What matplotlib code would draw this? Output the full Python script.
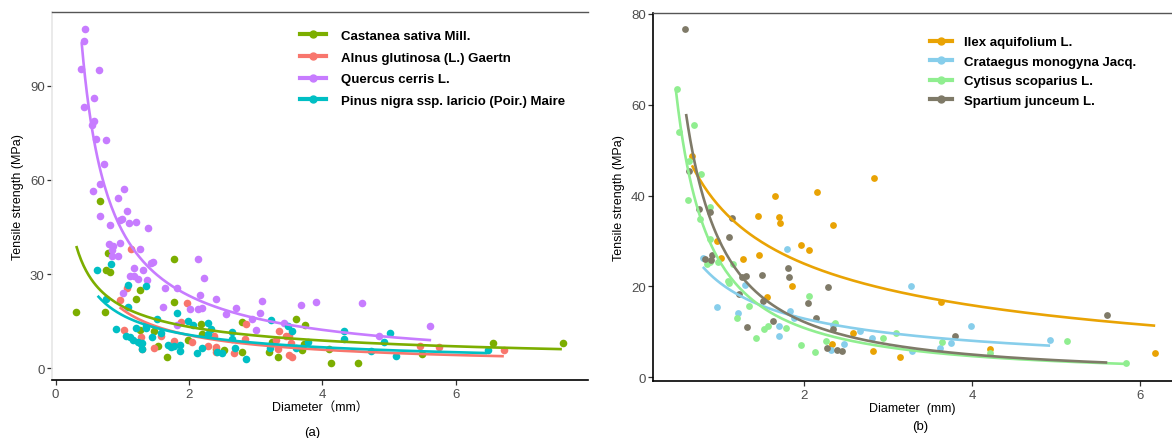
import numpy as np
import matplotlib
matplotlib.use("Agg")
import matplotlib.pyplot as plt
from matplotlib.lines import Line2D

plt.rcParams["font.family"] = ["Liberation Sans", "Noto Sans CJK SC", "DejaVu Sans"]

# Panel (a): tree species.
castanea_x = [0.31, 0.66, 0.78, 0.75, 0.82, 0.74, 1.26, 1.21, 1.77, 1.78, 1.26, 1.48, 1.53, 1.67,
              1.98, 2.18, 2.2, 2.41, 2.53, 2.79, 2.8, 3.2, 3.34, 3.24, 3.6, 3.74, 3.73, 3.7, 4.1,
              4.13, 4.54, 5.49, 6.56, 7.6]
castanea_y = [17.9, 53.3, 36.8, 31.3, 30.7, 17.9, 24.8, 22, 34.7, 21.2, 12.2, 11.7, 6.9, 3.7,
              9, 14, 10.8, 6, 5.8, 14.8, 5.2, 5, 3.4, 8.2, 15.6, 13.8, 7.6, 5.8, 6,
              1.6, 1.6, 4.5, 8, 8]

alnus_x = [1.13, 1.07, 0.96, 1.02, 1.28, 1.3, 1.48, 1.58, 1.77, 1.97, 1.88, 2.05, 2.28, 2.38,
           2.4, 2.41, 2.68, 2.85, 2.84, 3.33, 3.31, 3.45, 3.5, 3.53, 3.5, 3.55, 3.35, 5.47,
           5.75, 6.72]
alnus_y = [38.1, 25.7, 21.8, 12.2, 9.8, 6, 6.4, 10.3, 8.7, 20.9, 14.8, 8.4, 6.9, 10.1,
           6.6, 5.3, 4.7, 14.2, 9.2, 6, 9, 10.3, 10.3, 8, 4.1, 3.7, 11.7, 7.1,
           6.6, 5.8]

quercus_x = [0.44, 0.42, 0.38, 0.65, 0.57, 0.42, 0.57, 0.54, 0.60, 0.76, 0.72, 0.67, 0.56, 1.02,
             0.93, 0.66, 1.07, 1.0, 0.97, 1.10, 1.20, 0.82, 1.39, 0.80, 0.86, 0.97, 0.93, 0.85,
             0.85, 1.27, 1.46, 1.43, 1.17, 1.31, 1.11, 1.18, 1.23, 1.37, 1.64, 1.82, 2.13, 2.23,
             2.17, 2.41, 2.02, 2.14, 2.2, 1.61, 1.01, 2.71, 2.56, 3.09, 3.07, 2.95, 3.0, 1.82,
             3.68, 3.9, 4.59, 5.62, 3.43, 4.85]
quercus_y = [108, 104.2, 95.5, 95, 86, 83.3, 78.9, 77.6, 73.1, 72.6, 65, 58.6, 56.5, 57,
             54.4, 48.6, 50.1, 47.6, 47.3, 46.2, 46.6, 45.7, 44.7, 39.5, 38.9, 39.8, 35.8, 35.8,
             37.7, 38.1, 33.9, 33.6, 32, 31.3, 29.4, 29.4, 28.5, 28, 25.7, 25.5, 34.7, 28.6,
             23.2, 22, 18.8, 19, 19.3, 19.5, 23.9, 19.3, 17.4, 21.4, 17.5, 15.8, 12.1, 13.7,
             20.1, 21, 20.7, 13.4, 14.3, 10.1]

pinus_x = [0.62, 0.83, 0.75, 1.08, 1.36, 1.08, 0.91, 1.06, 1.11, 1.21, 1.16, 1.23, 1.3, 1.3,
           1.28, 1.36, 1.35, 1.45, 1.52, 1.58, 1.68, 1.73, 1.78, 1.86, 1.87, 1.82, 1.98, 2.06,
           2.12, 2.2, 2.29, 2.29, 2.33, 2.42, 2.5, 2.65, 2.64, 2.69, 2.85, 3.23, 3.22, 3.48,
           3.55, 3.61, 3.78, 4.33, 4.32, 4.73, 4.93, 5.01, 5.1, 6.48]
pinus_y = [31.3, 33.3, 22, 26.5, 26.2, 19.6, 12.6, 10.3, 9.8, 12.9, 9, 8.4, 8, 6,
           7.6, 13.3, 12.7, 9.8, 15.8, 11.3, 7.3, 6.6, 7.1, 7.3, 5.5, 17.5, 15.1, 13.7,
           4.8, 6.3, 14.5, 10.8, 12.4, 5, 4.8, 11.6, 9.4, 6.3, 2.9, 15.4, 6.3, 13.3,
           11.9, 6.4, 8.2, 11.7, 9.2, 5.5, 8.4, 11.3, 3.9, 5.7]

# Panel (b): shrub species.
ilex_x = [0.67, 1.66, 2.16, 2.83, 1.45, 1.7, 1.72, 2.35, 0.97, 1.97, 2.06, 1.47, 1.28, 1.02,
          1.86, 1.56, 2.33, 2.58, 2.82, 3.63, 4.22, 3.15, 6.18]
ilex_y = [48.6, 39.9, 40.8, 43.9, 35.4, 35.3, 33.9, 33.5, 29.9, 29.1, 28, 27, 26, 26.2,
          20, 17.6, 7.3, 9.8, 5.7, 16.6, 6.2, 4.5, 5.3]

crataegus_x = [0.8, 0.97, 1.22, 1.3, 1.7, 1.71, 1.8, 1.84, 1.88, 2.35, 2.32, 2.48, 2.67, 2.81,
               3.27, 3.29, 3.62, 3.75, 3.99, 4.93]
crataegus_y = [26.2, 15.4, 14.2, 20.3, 11.2, 9.1, 28.3, 14.5, 13.1, 11.5, 5.9, 7.3, 10.2, 8.7,
               20, 5.7, 6.3, 7.6, 11.2, 8.1]

cytisus_x = [0.49, 0.52, 0.7, 0.62, 0.63, 0.78, 0.89, 0.77, 0.89, 0.85, 0.88, 0.98, 1.16, 1.1,
             1.11, 1.21, 1.35, 1.43, 1.53, 1.58, 1.79, 2.06, 1.97, 2.13, 2.27, 2.37, 2.94, 3.1,
             3.64, 4.21, 5.13, 5.83]
cytisus_y = [63.4, 54, 55.5, 39, 47.6, 44.7, 37.5, 34.8, 30.4, 24.9, 25.4, 25.3, 24.9, 21.1,
             20.7, 13, 15.7, 8.5, 10.6, 11.3, 10.7, 17.9, 7, 5.6, 7.9, 11.8, 8.7, 9.8,
             7.8, 5.4, 7.9, 3]

spartium_x = [0.59, 0.63, 0.75, 0.88, 1.15, 1.11, 0.82, 0.91, 0.9, 1.26, 1.31, 1.5, 1.23, 1.81,
              1.82, 2.29, 1.52, 1.64, 2.05, 2.14, 1.32, 2.35, 2.28, 2.4, 2.45, 3.8, 5.61]
spartium_y = [76.7, 45.3, 37, 36.3, 35, 30.9, 26, 26.9, 25.8, 22, 22.2, 22.5, 18.3, 24,
              22.1, 19.8, 16.8, 12.4, 16.3, 13.1, 11.1, 10.6, 6.3, 5.9, 5.7, 9.1, 13.7]

# Fitted curves y = a * x^b + c, with the diameter range they cover.
# (a, b, c, x_start, x_end)
castanea_fit = (19.7, -0.582, 0.0, 0.31, 7.59)
alnus_fit = (18.75, -0.838, 0.0, 0.96, 6.72)
quercus_fit = (43.7, -0.92, 0.0, 0.39, 5.63)
pinus_fit = (16.9, -0.673, 0.0, 0.63, 6.47)
ilex_fit = (47.5, -0.44, -10.0, 0.67, 6.18)
crataegus_fit = (20.8, -0.69, 0.0, 0.8, 4.93)
cytisus_fit = (25.5, -1.233, 0.0, 0.48, 5.83)
spartium_fit = (29.9, -1.296, 0.0, 0.6, 5.61)

left_names = ["Castanea sativa Mill.", "Alnus glutinosa (L.) Gaertn",
              "Quercus cerris L.", "Pinus nigra ssp. laricio (Poir.) Maire"]
right_names = ["Ilex aquifolium L.", "Crataegus monogyna Jacq.",
               "Cytisus scoparius L.", "Spartium junceum L."]

left_colors = ["#7CAE00", "#F8766D", "#C77CFF", "#00BFC4"]
right_colors = ["#E9A304", "#87CEEB", "#90EE90", "#7F7A68"]


def power_curve(fit, n=200):
    a, b, c, x0, x1 = fit
    xs = np.linspace(x0, x1, n)
    return xs, a * xs ** b + c


def style_axes(ax, left_color):
    ax.spines["right"].set_visible(False)
    ax.spines["top"].set_color("#555555")
    ax.spines["top"].set_linewidth(1.0)
    ax.spines["bottom"].set_color("black")
    ax.spines["bottom"].set_linewidth(1.2)
    ax.spines["left"].set_color(left_color)
    ax.spines["left"].set_linewidth(1.2)
    ax.tick_params(direction="out", length=3.5, width=0.9, colors="#333333",
                   labelcolor="#4D4D4D", labelsize=9.5, pad=2)


def draw_panel(ax, series, fits, colors, msize):
    for (xs, ys), fit, color in zip(series, fits, colors):
        ax.scatter(xs, ys, s=msize, color=color, linewidths=0, zorder=2)
        cx, cy = power_curve(fit)
        ax.plot(cx, cy, color=color, lw=1.9, zorder=3, solid_capstyle="butt")
    handles = [Line2D([0], [0], color=c, lw=3, marker="o", markersize=5) for c in colors]
    return handles


fig = plt.figure(figsize=(11.72, 4.39), dpi=100)

# Panel (a)
ax1 = fig.add_axes([0.0446, 0.132, 0.457, 0.838])
handles = draw_panel(
    ax1,
    [(castanea_x, castanea_y), (alnus_x, alnus_y), (quercus_x, quercus_y), (pinus_x, pinus_y)],
    [castanea_fit, alnus_fit, quercus_fit, pinus_fit],
    left_colors, 30,
)
ax1.set_xlim(-0.05, 7.98)
ax1.set_ylim(-3.8, 113.5)
ax1.set_xticks([0, 2, 4, 6])
ax1.set_yticks([0, 30, 60, 90])
style_axes(ax1, "#E6E6E6")
ax1.set_xlabel("Diameter（mm）", fontsize=9, labelpad=1)
ax1.set_ylabel("Tensile strength (MPa)", fontsize=9, labelpad=4)
ax1.legend(handles, left_names, loc="upper left", bbox_to_anchor=(0.44, 0.985),
           frameon=False, handlelength=2.0, handletextpad=1.1, labelspacing=0.72,
           prop={"weight": "bold", "size": 9.5})
fig.text(0.266, 0.0137, "(a)", fontsize=9.5, ha="center", va="center")

# Panel (b)
ax2 = fig.add_axes([0.5574, 0.129, 0.4426, 0.839])
handles = draw_panel(
    ax2,
    [(ilex_x, ilex_y), (crataegus_x, crataegus_y), (cytisus_x, cytisus_y),
     (spartium_x, spartium_y)],
    [ilex_fit, crataegus_fit, cytisus_fit, spartium_fit],
    right_colors, 24,
)
ax2.set_xlim(0.21, 6.38)
ax2.set_ylim(-0.95, 80.2)
ax2.set_xticks([2, 4, 6])
ax2.set_yticks([0, 20, 40, 60, 80])
style_axes(ax2, "black")
ax2.set_xlabel("Diameter  (mm)", fontsize=9, labelpad=1)
ax2.set_ylabel("Tensile strength (MPa)", fontsize=9, labelpad=4)
ax2.legend(handles, right_names, loc="upper left", bbox_to_anchor=(0.51, 0.97),
           frameon=False, handlelength=1.7, handletextpad=0.9, labelspacing=0.55,
           prop={"weight": "bold", "size": 9.5})
fig.text(0.785, 0.0273, "(b)", fontsize=9.5, ha="center", va="center")

fig.savefig("out.png", dpi=100)
